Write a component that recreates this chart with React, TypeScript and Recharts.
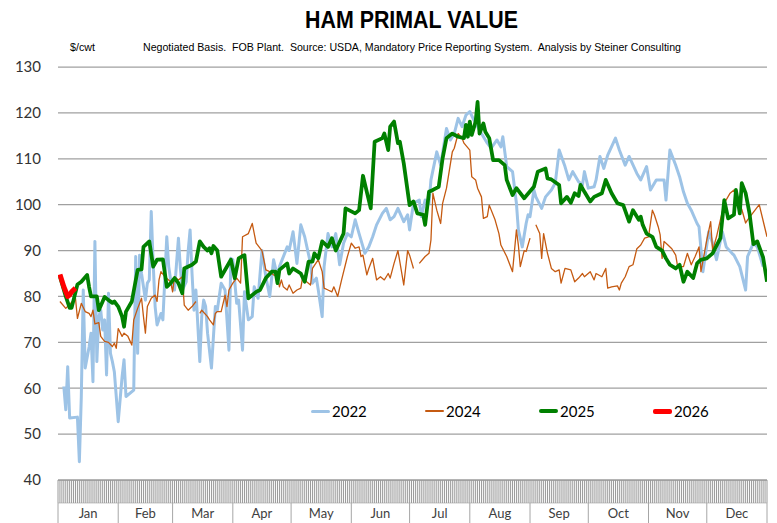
import React from "react"
import { LineChart, Line, XAxis, YAxis, CartesianGrid } from "recharts"

const months = ["Jan", "Feb", "Mar", "Apr", "May", "Jun", "Jul", "Aug", "Sep", "Oct", "Nov", "Dec"]
const monthStarts = [0, 31, 59, 90, 120, 151, 181, 212, 243, 273, 304, 334, 365]
const yTicks = [40, 50, 60, 70, 80, 90, 100, 110, 120, 130]

// day of year / $ per cwt
const days2022 = [3,4,5,6,10,11,12,13,14,16,17,18,19,20,21,22,23,24,25,26,27,28,29,31,33,34,35,39,40,41,42,43,44,45,46,47,48,49,50,51,53,54,56,57,58,60,62,63,64,66,67,68,69,70,71,73,74,75,76,77,79,81,82,84,86,87,88,89,90,92,93,95,96,98,100,101,103,105,107,109,111,113,114,118,119,121,123,125,127,130,131,133,134,136,137,139,141,143,145,147,149,151,153,155,158,160,162,164,167,169,171,173,175,178,180,181,183,186,187,189,191,192,195,197,200,202,204,206,208,210,212,214,218,221,223,226,228,229,231,234,236,237,239,241,242,243,245,246,249,251,254,256,258,261,263,265,268,270,271,273,276,277,279,281,283,287,289,292,294,298,300,303,305,308,312,313,315,318,320,322,324,326,329,330,332,335,337,339,342,344,347,348,351,354,355,358,360,363]
const vals2022 = [60.4,55.3,64.7,53.5,53.7,44,58.2,81.4,64.4,69,72,61.4,92,65.8,75.6,77,72.7,74.9,62.9,80.7,67.6,65.8,63.6,52.7,62.5,66.2,58.2,59.6,88.7,67.6,89,85,82.1,79.2,82.9,83.6,98.5,87.2,77.8,73.8,76.3,74.9,93,86.5,83.6,81.4,92.7,86.1,81.4,83.2,89.8,94.5,85,77,81.4,65.8,75.6,79.2,77.8,72,64.4,77.8,77,82.9,81.4,74.9,68.3,88.3,88,78.5,79.2,68.3,81,74.9,75.6,82.1,79.6,90,84.3,80,88,84.3,86.5,90.8,90,94.1,87.2,95.6,93,87.2,82.9,84,81.4,75.6,86.5,93.7,90.8,93.7,86.9,91.6,93.7,93,96.7,93.7,89.4,90.8,93,95.6,98.1,99.2,96.7,97.4,99.2,96.3,97.8,94.5,100.3,101,97.4,101,100.3,105.4,111.5,108.6,116.6,114.1,115.5,118.8,117,119.5,120.3,118.5,115.5,113.4,112.3,114.1,112.6,114.8,108.3,107.2,100.3,94.5,90.8,95.9,97.8,97.4,103.2,101.7,99.2,101.7,103.2,104.7,111.9,108.3,105.4,107.2,105,104.3,107.2,103.6,103.9,105.4,110.5,107.9,110.8,114.5,111.9,108.6,110.5,106.8,105.4,108.3,103.2,105.4,105.4,101,111.9,108.6,106.1,102.8,100.3,98.8,95.9,95.2,85.4,94.1,91.6,88,94.1,90.8,89.4,89,86.5,81.4,88.7,91.6,90.8,86.5]

const days2024 = [1,4,9,10,12,14,16,17,18,19,21,22,24,26,28,29,30,31,33,34,36,38,39,41,43,44,45,46,48,50,51,52,53,55,58,59,60,62,64,65,67,69,71,72,73,74,77,78,80,81,82,84,86,87,88,90,92,94,95,98,100,102,105,107,109,111,113,114,115,116,118,119,121,123,125,126,128,130,131,134,136,137,139,141,142,144,146,149,151,153,155,156,157,159,160,162,164,166,168,169,170,171,173,175,178,180,181,183,184,186,189,191,192,193,195,197,198,200,203,204,206,208,209,212,213,215,216,218,219,221,222,225,227,228,231,234,236,237,238,240,241,243,244,246,248,249,250,252,254,256,258,259,261,264,266,268,270,271,274,276,277,280,282,283,285,288,289,290,292,294,296,298,300,302,304,306,307,309,310,311,312,314,316,318,319,322,324,326,328,330,331,334,336,337,339,341,343,346,348,349,352,354,355,361,365]
const vals2024 = [78.9,77.4,79.6,75.2,78.5,76.7,76.3,75.6,77,74,74.3,71.3,70.2,70,69.1,69.8,68.7,73,71.3,72,71.3,69.4,74.9,77.4,79.6,75.6,72,77.8,79.6,80.3,78.9,83.6,85.4,84.3,83.2,81,84.3,83.6,84.3,78.1,77,77.8,78.9,null,76.3,77,75.6,74.9,73.8,76.3,76.7,76.7,80.3,77.8,81.4,82.9,84,82.9,93,93.7,95.9,91.6,90,85.8,85.4,84.7,84.3,82.1,83.6,82.1,81.4,82.5,80.7,81.4,81.8,84.3,83.2,82.5,86.1,88,85.4,81.8,81.4,81,82.1,80,83.6,88.7,91.6,90.5,90.8,88.7,89,84.7,86.1,88.3,83.6,84.3,83.6,84.3,85,84,87.2,90,82.5,90,89,86.1,null,87.2,88.7,89.4,92.3,102.5,98.8,95.9,100.3,103.6,111.5,112.3,115.5,114.5,113.4,111.9,106.1,105.4,103.6,101.7,97,97.4,99.9,96.7,93.7,91.2,88.7,85.4,94.5,91.2,86.5,90,89.8,92.7,null,95.6,93.7,88.3,93.7,89.4,86.1,85.4,85.8,82.9,86.1,85.8,83.2,84,85,84.3,85.4,83.6,85,84.3,86.1,81.8,82.1,82.3,81.4,82.9,84.3,86.5,86.9,90.4,91.2,92.7,93,98.8,97.8,95.2,93.4,88.3,92,91.2,90.4,89,86.5,86.5,89.4,86.9,88.7,90.8,85.4,92.3,96.3,90,93,96.7,100.3,102.5,103.2,101.7,99,96,96.7,100,93]

const days2025 = [1,4,6,7,10,12,15,16,17,20,21,24,26,28,29,31,33,34,35,38,41,43,44,47,49,51,54,56,58,60,62,64,65,69,71,73,75,77,78,79,80,82,84,89,91,93,95,96,98,102,104,107,110,112,113,114,118,119,121,125,127,129,131,132,134,136,139,141,143,147,148,153,155,157,161,163,167,168,170,171,173,175,176,178,181,183,185,188,189,191,193,196,198,200,203,206,209,210,211,212,213,215,216,217,219,220,222,224,227,230,231,234,236,240,245,247,251,252,254,258,259,262,264,266,268,269,271,274,276,280,282,285,288,291,294,296,299,300,301,303,306,308,311,313,315,318,320,322,324,327,329,331,334,337,341,343,345,348,349,351,352,354,356,358,360,363,365]
const vals2025 = [84.3,80,77.5,77.5,82.6,83.2,84.7,82.1,80,80,77,79.9,79.2,78.6,78.9,77.8,75.6,73.4,76.7,78.9,85.8,85.9,90.8,92,86.5,88,88.1,82.1,82.9,84,82.9,80.7,86.1,86.9,87.6,92,90.8,90,90.5,89.4,91,90,84.3,88,84,88.3,88.8,89,79.6,81,81.4,84,85.4,85.4,82.9,85.8,87.2,85,86.1,85,83.2,87.6,87.6,89.4,88.3,92,90.8,92.7,90,93.7,99.2,98.1,98.8,106.3,99.2,113.7,114.5,115.5,111.9,117,118.1,113.4,113.7,109,99.9,100.7,98.1,97.8,95.6,102.8,103.2,103.9,110.1,114.5,115.5,114.8,114.5,117.4,114.8,118.1,115.2,118.1,122.4,115.5,117.7,115.9,114.5,109.7,109.7,108.6,105.4,102.1,103.6,101.4,103.9,107.2,107.9,105.7,105.5,104.3,100.3,101.7,100.4,102.5,101.9,104.3,102.8,100.7,101.7,102.5,105.4,102.5,100.3,99.9,96.3,98.8,96.7,97.4,95.6,93.7,93,90.8,90,88.3,86.9,86.1,86.9,83.2,85.4,84,87.2,88,88.3,89.4,92.7,101,97,97.8,103.2,98.1,104.7,102.5,98.1,91.4,92,88.5,83.2]

const days2026 = [1, 3, 5, 6, 7, 9]
const vals2026 = [84.8, 82.1, 80, 80.3, 81, 81.8]

const toPoints = (days: number[], vals: (number | null)[]) => days.map((d, i) => ({ d, v: vals[i] }))

const series = [
  { name: "2022", color: "#9dc3e6", width: 3, key: 3, data: toPoints(days2022, vals2022) },
  { name: "2024", color: "#c55a11", width: 1.3, key: 2, data: toPoints(days2024, vals2024) },
  { name: "2025", color: "#008000", width: 3.75, key: 4, data: toPoints(days2025, vals2025) },
  { name: "2026", color: "#ff0000", width: 5, key: 5, data: toPoints(days2026, vals2026) },
]

const dayTicks = Array.from({ length: 366 }, (_, i) => i)
const monthMids = months.map((_, i) => (monthStarts[i] + monthStarts[i + 1]) / 2)
const monthAxisTicks = [...monthStarts, ...monthMids].sort((a, b) => a - b)

const font = "Lato, 'Open Sans', sans-serif"
const narrow = "'Liberation Sans Narrow', 'Arial Narrow', 'Liberation Sans', sans-serif"

const DayTick = ({ x, y }: any) => (
  <line x1={x} x2={x} y1={y} y2={y + 23} stroke="#9a9a9a" strokeWidth={1} />
)

const MonthTick = ({ x, y, payload }: any) => {
  const m = monthMids.indexOf(payload.value)
  if (m < 0) return <line x1={x} x2={x} y1={y} y2={y + 20} stroke="#a6a6a6" strokeWidth={1} />
  return (
    <text x={x} y={y + 15} textAnchor="middle" fontSize={13} fill="#404040" fontFamily={font}>
      {months[m]}
    </text>
  )
}

export default function App() {
  return (
    <div style={{ position: "absolute", left: 0, top: 0, width: 777, height: 523, background: "#fff" }}>
      <LineChart width={777} height={523} margin={{ top: 67, right: 10, bottom: 0, left: 0 }}>
        <CartesianGrid vertical={false} stroke="#a0a0a0" strokeWidth={1.25} />
        <YAxis
          domain={[40, 130]}
          ticks={yTicks}
          interval={0}
          width={58}
          axisLine={false}
          tickLine={false}
          tickSize={0}
          tickMargin={17}
          tick={{ fontSize: 15, fill: "#333", fontFamily: font }}
        />
        <XAxis
          type="number"
          dataKey="d"
          domain={[0, 365]}
          ticks={dayTicks}
          interval={0}
          tick={DayTick}
          tickLine={false}
          tickSize={0}
          tickMargin={0}
          axisLine={{ stroke: "#999" }}
          height={23}
          allowDataOverflow
        />
        <XAxis
          xAxisId="m"
          type="number"
          dataKey="d"
          domain={[0, 365]}
          ticks={monthAxisTicks}
          interval={0}
          tick={MonthTick}
          tickLine={false}
          tickSize={0}
          tickMargin={0}
          axisLine={{ stroke: "#c8c8c8" }}
          height={20}
          allowDataOverflow
        />
        {series.map((s) => (
          <Line
            key={s.name}
            name={s.name}
            data={s.data}
            dataKey="v"
            type="linear"
            stroke={s.color}
            strokeWidth={s.width}
            strokeLinejoin="round"
            dot={false}
            activeDot={false}
            isAnimationActive={false}
          />
        ))}
      </LineChart>

      <svg width={777} height={60} style={{ position: "absolute", left: 0, top: 0 }}>
        <text
          x={305}
          y={28}
          textLength={213}
          lengthAdjust="spacingAndGlyphs"
          fontFamily={narrow}
          fontWeight="bold"
          fontSize={24}
          fill="#000"
        >
          HAM PRIMAL VALUE
        </text>
        <text x={70} y={51} textLength={25} lengthAdjust="spacingAndGlyphs" fontFamily={narrow} fontSize={11} fill="#000">
          $/cwt
        </text>
        <text
          x={143}
          y={51}
          textLength={538}
          lengthAdjust="spacingAndGlyphs"
          fontFamily={narrow}
          fontSize={11}
          fill="#000"
          style={{ whiteSpace: "pre" }}
        >
          Negotiated Basis.  FOB Plant.  Source: USDA, Mandatory Price Reporting System.  Analysis by Steiner Consulting
        </text>
      </svg>

      <div style={{ position: "absolute", left: 311, top: 402, display: "flex" }}>
        {series.map((s) => (
          <div key={s.name} style={{ width: 114, height: 18, display: "flex", alignItems: "center" }}>
            <span style={{ display: "inline-block", width: 19, height: s.key, background: s.color, borderRadius: 2 }} />
            <span style={{ marginLeft: 2, fontFamily: font, fontSize: 15, lineHeight: "18px", color: "#000" }}>{s.name}</span>
          </div>
        ))}
      </div>
    </div>
  )
}
